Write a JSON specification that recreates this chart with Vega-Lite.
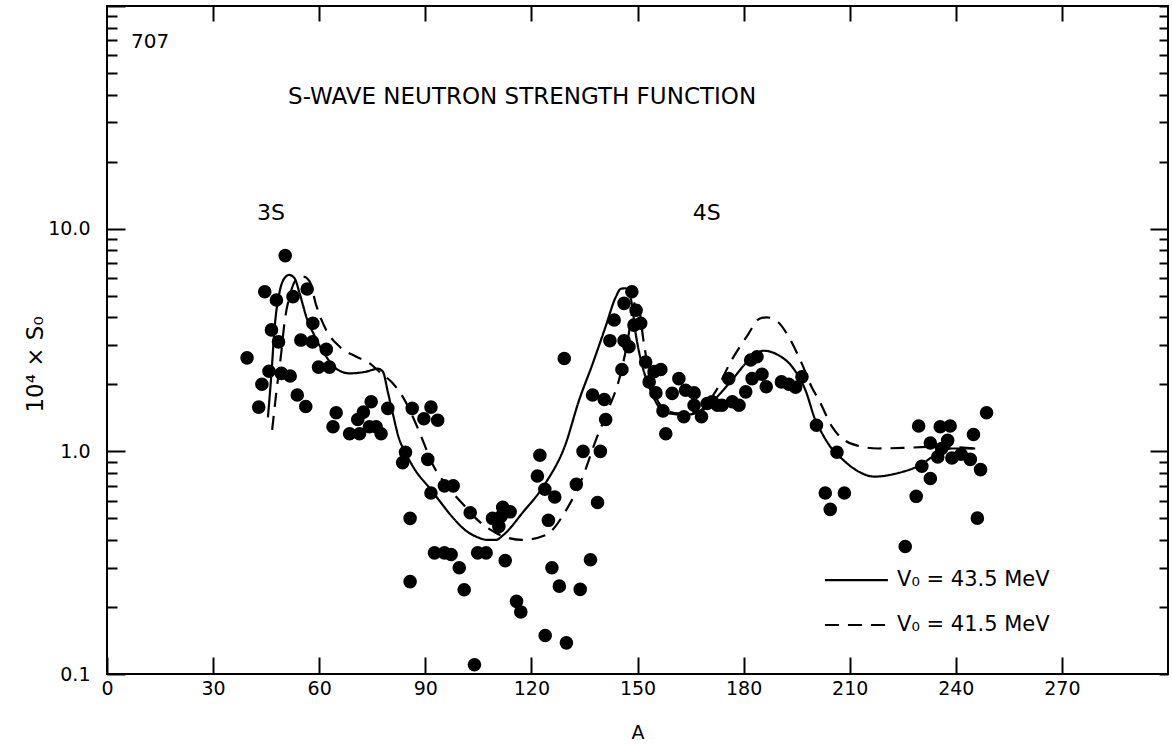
{
  "$schema": "https://vega.github.io/schema/vega-lite/v6.json",
  "width": 1061,
  "height": 668,
  "autosize": {"type": "none"},
  "padding": {"left": 107, "top": 6, "right": 4, "bottom": 70},
  "background": "white",
  "config": {
    "font": "DejaVu Sans",
    "view": {"stroke": "black", "strokeWidth": 2},
    "axis": {"grid": false, "domain": false, "tickColor": "black", "tickWidth": 2, "labelColor": "black", "titleColor": "black", "labelFont": "DejaVu Sans", "titleFont": "DejaVu Sans", "titleFontWeight": "normal"}
  },
  "datasets": {
    "obs": [
      {"A": 39.6, "S": 2.63}, {"A": 42.9, "S": 1.58}, {"A": 43.8, "S": 2.0}, {"A": 44.6, "S": 5.21},
      {"A": 45.8, "S": 2.29}, {"A": 46.5, "S": 3.51}, {"A": 47.9, "S": 4.78}, {"A": 48.5, "S": 3.1},
      {"A": 49.3, "S": 2.24}, {"A": 50.4, "S": 7.57}, {"A": 51.8, "S": 2.18}, {"A": 52.6, "S": 4.95},
      {"A": 53.8, "S": 1.79}, {"A": 54.8, "S": 3.16}, {"A": 56.2, "S": 1.59}, {"A": 56.6, "S": 5.36},
      {"A": 58.1, "S": 3.1}, {"A": 58.2, "S": 3.76}, {"A": 59.8, "S": 2.39}, {"A": 62.0, "S": 2.87},
      {"A": 62.9, "S": 2.39}, {"A": 64.8, "S": 1.49}, {"A": 63.9, "S": 1.29},
      {"A": 68.6, "S": 1.2}, {"A": 70.9, "S": 1.39}, {"A": 71.4, "S": 1.2}, {"A": 72.5, "S": 1.5},
      {"A": 74.2, "S": 1.29}, {"A": 74.7, "S": 1.67}, {"A": 76.1, "S": 1.29}, {"A": 77.5, "S": 1.2},
      {"A": 79.4, "S": 1.56},
      {"A": 83.6, "S": 0.89}, {"A": 84.4, "S": 0.99}, {"A": 85.7, "S": 0.5}, {"A": 85.7, "S": 0.26},
      {"A": 86.3, "S": 1.56}, {"A": 89.6, "S": 1.4}, {"A": 90.7, "S": 0.92}, {"A": 91.6, "S": 1.58},
      {"A": 91.6, "S": 0.65}, {"A": 92.6, "S": 0.35}, {"A": 93.5, "S": 1.38}, {"A": 95.4, "S": 0.7},
      {"A": 95.4, "S": 0.35}, {"A": 97.3, "S": 0.344}, {"A": 97.9, "S": 0.7}, {"A": 99.6, "S": 0.3},
      {"A": 101.0, "S": 0.239}, {"A": 102.7, "S": 0.53}, {"A": 103.9, "S": 0.11}, {"A": 104.8, "S": 0.35},
      {"A": 107.2, "S": 0.35},
      {"A": 109.0, "S": 0.5}, {"A": 110.8, "S": 0.46}, {"A": 111.4, "S": 0.51}, {"A": 111.9, "S": 0.56},
      {"A": 114.0, "S": 0.535}, {"A": 112.6, "S": 0.323}, {"A": 115.8, "S": 0.212}, {"A": 117.0, "S": 0.19},
      {"A": 121.7, "S": 0.775}, {"A": 122.4, "S": 0.96}, {"A": 123.8, "S": 0.676}, {"A": 123.9, "S": 0.149},
      {"A": 124.8, "S": 0.49}, {"A": 125.8, "S": 0.3}, {"A": 126.6, "S": 0.624}, {"A": 127.9, "S": 0.248},
      {"A": 129.3, "S": 2.61}, {"A": 129.9, "S": 0.138}, {"A": 132.7, "S": 0.711}, {"A": 133.8, "S": 0.24},
      {"A": 134.6, "S": 1.0}, {"A": 136.7, "S": 0.326}, {"A": 137.3, "S": 1.79}, {"A": 138.7, "S": 0.589},
      {"A": 139.5, "S": 1.0}, {"A": 140.6, "S": 1.71}, {"A": 141.0, "S": 1.39},
      {"A": 142.2, "S": 3.14}, {"A": 143.4, "S": 3.89}, {"A": 145.6, "S": 2.33}, {"A": 146.2, "S": 4.62},
      {"A": 146.2, "S": 3.14}, {"A": 147.6, "S": 2.95}, {"A": 148.4, "S": 5.21}, {"A": 149.0, "S": 3.69},
      {"A": 149.6, "S": 4.3}, {"A": 150.9, "S": 3.76},
      {"A": 152.3, "S": 2.52}, {"A": 153.3, "S": 2.05}, {"A": 154.7, "S": 2.28}, {"A": 155.2, "S": 1.83},
      {"A": 156.6, "S": 2.33}, {"A": 157.2, "S": 1.52}, {"A": 158.0, "S": 1.2}, {"A": 159.8, "S": 1.82},
      {"A": 161.7, "S": 2.12}, {"A": 163.1, "S": 1.43}, {"A": 163.6, "S": 1.88}, {"A": 166.0, "S": 1.83},
      {"A": 166.0, "S": 1.61}, {"A": 168.1, "S": 1.43}, {"A": 169.7, "S": 1.64}, {"A": 171.1, "S": 1.67},
      {"A": 172.6, "S": 1.61}, {"A": 173.9, "S": 1.61}, {"A": 175.8, "S": 2.12}, {"A": 176.8, "S": 1.67},
      {"A": 178.7, "S": 1.61}, {"A": 180.6, "S": 1.85}, {"A": 182.0, "S": 2.57}, {"A": 182.4, "S": 2.12},
      {"A": 183.8, "S": 2.66}, {"A": 185.2, "S": 2.22}, {"A": 186.4, "S": 1.95}, {"A": 190.7, "S": 2.05},
      {"A": 192.8, "S": 2.0}, {"A": 194.7, "S": 1.94}, {"A": 196.5, "S": 2.16},
      {"A": 200.6, "S": 1.31}, {"A": 203.1, "S": 0.65}, {"A": 204.5, "S": 0.549}, {"A": 206.4, "S": 0.99},
      {"A": 208.5, "S": 0.65},
      {"A": 225.7, "S": 0.374}, {"A": 228.8, "S": 0.628}, {"A": 229.5, "S": 1.3}, {"A": 230.4, "S": 0.857},
      {"A": 232.8, "S": 1.09}, {"A": 232.8, "S": 0.755}, {"A": 234.9, "S": 0.944}, {"A": 235.6, "S": 1.29},
      {"A": 236.0, "S": 1.03}, {"A": 237.7, "S": 1.12}, {"A": 238.4, "S": 1.3}, {"A": 238.9, "S": 0.934},
      {"A": 241.5, "S": 0.97}, {"A": 244.1, "S": 0.92}, {"A": 245.0, "S": 1.19}, {"A": 246.1, "S": 0.501},
      {"A": 247.0, "S": 0.828}, {"A": 248.7, "S": 1.49}
    ],
    "calc": [
      {"curve": "43.5", "A": 45.5, "S": 1.42}, {"curve": "43.5", "A": 46.5, "S": 2.24}, {"curve": "43.5", "A": 47.4, "S": 3.6},
      {"curve": "43.5", "A": 48.8, "S": 5.2}, {"curve": "43.5", "A": 50.2, "S": 6.0}, {"curve": "43.5", "A": 51.5, "S": 6.2},
      {"curve": "43.5", "A": 53.0, "S": 6.0}, {"curve": "43.5", "A": 54.5, "S": 5.1}, {"curve": "43.5", "A": 56.4, "S": 4.0},
      {"curve": "43.5", "A": 58.7, "S": 3.3}, {"curve": "43.5", "A": 62.0, "S": 2.66}, {"curve": "43.5", "A": 64.8, "S": 2.35},
      {"curve": "43.5", "A": 68.6, "S": 2.24}, {"curve": "43.5", "A": 73.3, "S": 2.28}, {"curve": "43.5", "A": 76.6, "S": 2.35},
      {"curve": "43.5", "A": 78.0, "S": 2.28}, {"curve": "43.5", "A": 79.4, "S": 1.85}, {"curve": "43.5", "A": 80.8, "S": 1.48},
      {"curve": "43.5", "A": 82.5, "S": 1.15}, {"curve": "43.5", "A": 84.5, "S": 0.98}, {"curve": "43.5", "A": 87.0, "S": 0.83},
      {"curve": "43.5", "A": 91.0, "S": 0.69}, {"curve": "43.5", "A": 94.0, "S": 0.6}, {"curve": "43.5", "A": 97.5, "S": 0.51},
      {"curve": "43.5", "A": 101.5, "S": 0.44}, {"curve": "43.5", "A": 105.0, "S": 0.41}, {"curve": "43.5", "A": 107.6, "S": 0.4},
      {"curve": "43.5", "A": 110.0, "S": 0.4}, {"curve": "43.5", "A": 112.0, "S": 0.42}, {"curve": "43.5", "A": 117.5, "S": 0.53},
      {"curve": "43.5", "A": 124.0, "S": 0.72}, {"curve": "43.5", "A": 129.5, "S": 1.06}, {"curve": "43.5", "A": 133.5, "S": 1.7},
      {"curve": "43.5", "A": 137.3, "S": 2.47}, {"curve": "43.5", "A": 141.0, "S": 3.64}, {"curve": "43.5", "A": 143.9, "S": 4.95},
      {"curve": "43.5", "A": 145.3, "S": 5.37}, {"curve": "43.5", "A": 146.7, "S": 5.4}, {"curve": "43.5", "A": 148.2, "S": 4.78},
      {"curve": "43.5", "A": 149.5, "S": 3.37}, {"curve": "43.5", "A": 151.4, "S": 2.41}, {"curve": "43.5", "A": 153.7, "S": 1.88},
      {"curve": "43.5", "A": 156.1, "S": 1.58}, {"curve": "43.5", "A": 158.9, "S": 1.48}, {"curve": "43.5", "A": 163.6, "S": 1.46},
      {"curve": "43.5", "A": 167.4, "S": 1.5}, {"curve": "43.5", "A": 172.1, "S": 1.73}, {"curve": "43.5", "A": 176.8, "S": 2.1},
      {"curve": "43.5", "A": 181.5, "S": 2.57}, {"curve": "43.5", "A": 185.7, "S": 2.83}, {"curve": "43.5", "A": 189.9, "S": 2.7},
      {"curve": "43.5", "A": 193.7, "S": 2.4}, {"curve": "43.5", "A": 197.5, "S": 1.88}, {"curve": "43.5", "A": 200.3, "S": 1.38},
      {"curve": "43.5", "A": 202.0, "S": 1.22}, {"curve": "43.5", "A": 204.5, "S": 1.05}, {"curve": "43.5", "A": 208.0, "S": 0.92},
      {"curve": "43.5", "A": 212.0, "S": 0.82}, {"curve": "43.5", "A": 217.0, "S": 0.77}, {"curve": "43.5", "A": 223.8, "S": 0.8},
      {"curve": "43.5", "A": 229.5, "S": 0.86}, {"curve": "43.5", "A": 235.0, "S": 0.98}, {"curve": "43.5", "A": 238.9, "S": 1.03},
      {"curve": "43.5", "A": 245.5, "S": 1.03},
      {"curve": "41.5", "A": 46.7, "S": 1.25}, {"curve": "41.5", "A": 47.9, "S": 1.85}, {"curve": "41.5", "A": 49.3, "S": 2.8},
      {"curve": "41.5", "A": 50.2, "S": 3.8}, {"curve": "41.5", "A": 51.6, "S": 4.95}, {"curve": "41.5", "A": 53.5, "S": 5.9},
      {"curve": "41.5", "A": 55.4, "S": 6.1}, {"curve": "41.5", "A": 57.3, "S": 5.8}, {"curve": "41.5", "A": 59.2, "S": 4.5},
      {"curve": "41.5", "A": 62.0, "S": 3.5}, {"curve": "41.5", "A": 65.8, "S": 2.95}, {"curve": "41.5", "A": 70.5, "S": 2.66},
      {"curve": "41.5", "A": 74.2, "S": 2.49}, {"curve": "41.5", "A": 77.0, "S": 2.28}, {"curve": "41.5", "A": 80.8, "S": 2.02},
      {"curve": "41.5", "A": 83.6, "S": 1.76}, {"curve": "41.5", "A": 86.9, "S": 1.38}, {"curve": "41.5", "A": 89.0, "S": 1.15},
      {"curve": "41.5", "A": 92.0, "S": 0.88}, {"curve": "41.5", "A": 96.8, "S": 0.68}, {"curve": "41.5", "A": 101.5, "S": 0.56},
      {"curve": "41.5", "A": 104.3, "S": 0.5}, {"curve": "41.5", "A": 110.0, "S": 0.43}, {"curve": "41.5", "A": 117.5, "S": 0.4},
      {"curve": "41.5", "A": 124.0, "S": 0.42}, {"curve": "41.5", "A": 129.7, "S": 0.54}, {"curve": "41.5", "A": 134.4, "S": 0.76},
      {"curve": "41.5", "A": 138.2, "S": 1.12}, {"curve": "41.5", "A": 142.0, "S": 1.58}, {"curve": "41.5", "A": 144.8, "S": 2.1},
      {"curve": "41.5", "A": 147.3, "S": 3.2}, {"curve": "41.5", "A": 148.6, "S": 4.3}, {"curve": "41.5", "A": 149.8, "S": 4.8},
      {"curve": "41.5", "A": 150.6, "S": 4.3}, {"curve": "41.5", "A": 151.5, "S": 3.3}, {"curve": "41.5", "A": 152.3, "S": 2.74},
      {"curve": "41.5", "A": 153.5, "S": 2.1}, {"curve": "41.5", "A": 155.2, "S": 1.75}, {"curve": "41.5", "A": 157.5, "S": 1.55},
      {"curve": "41.5", "A": 161.7, "S": 1.48}, {"curve": "41.5", "A": 167.4, "S": 1.52}, {"curve": "41.5", "A": 172.0, "S": 1.85},
      {"curve": "41.5", "A": 176.5, "S": 2.55}, {"curve": "41.5", "A": 181.0, "S": 3.3}, {"curve": "41.5", "A": 184.5, "S": 3.94},
      {"curve": "41.5", "A": 186.5, "S": 4.0}, {"curve": "41.5", "A": 189.8, "S": 3.8}, {"curve": "41.5", "A": 192.6, "S": 3.3},
      {"curve": "41.5", "A": 196.5, "S": 2.47}, {"curve": "41.5", "A": 199.2, "S": 1.95}, {"curve": "41.5", "A": 201.3, "S": 1.7},
      {"curve": "41.5", "A": 205.0, "S": 1.29}, {"curve": "41.5", "A": 210.6, "S": 1.08}, {"curve": "41.5", "A": 218.0, "S": 1.03},
      {"curve": "41.5", "A": 227.5, "S": 1.04}, {"curve": "41.5", "A": 235.0, "S": 1.05}, {"curve": "41.5", "A": 245.5, "S": 1.03}
    ],
    "key": [
      {"curve": "43.5", "A": 203.0, "S": 0.264}, {"curve": "43.5", "A": 220.8, "S": 0.264},
      {"curve": "41.5", "A": 203.0, "S": 0.166}, {"curve": "41.5", "A": 220.8, "S": 0.166}
    ],
    "keyText": [
      {"A": 223.4, "S": 0.264, "label": "V₀ = 43.5 MeV"},
      {"A": 223.4, "S": 0.166, "label": "V₀ = 41.5 MeV"}
    ]
  },
  "resolve": {"axis": {"x": "independent", "y": "independent"}},
  "layer": [
    {
      "data": {"name": "obs"},
      "mark": {"type": "circle", "size": 185, "color": "black", "opacity": 1},
      "encoding": {
        "x": {
          "field": "A", "type": "quantitative",
          "scale": {"domain": [0, 300], "nice": false, "zero": false},
          "axis": {
            "orient": "bottom", "values": [0, 30, 60, 90, 120, 150, 180, 210, 240, 270], "format": "d",
            "tickSize": -17, "labelPadding": 22, "labelFontSize": 19, "labelFlush": false, "labelOverlap": false,
            "title": "A", "titleFontSize": 19, "titleY": 58, "titleBaseline": "middle"
          }
        },
        "y": {
          "field": "S", "type": "quantitative",
          "scale": {"type": "log", "domain": [0.1, 100], "nice": false},
          "axis": {
            "orient": "left",
            "values": [0.1, 0.2, 0.3, 0.4, 0.5, 0.6, 0.7, 0.8, 0.9, 1, 2, 3, 4, 5, 6, 7, 8, 9, 10, 20, 30, 40, 50, 60, 70, 80, 90, 100],
            "labelExpr": "datum.value == 0.1 ? '0.1' : datum.value == 1 ? '1.0' : datum.value == 10 ? '10.0' : ''",
            "tickSize": {"condition": {"test": "datum.value == 1 || datum.value == 10 || datum.value == 100 || datum.value == 0.1", "value": -18}, "value": -10},
            "labelPadding": 35, "labelFontSize": 19, "labelOverlap": false, "labelFlush": false,
            "title": "10⁴ × S₀", "titleFontSize": 23, "titleX": -72, "titleY": 358, "titleAlign": "center", "titleBaseline": "middle"
          }
        }
      }
    },
    {
      "data": {"name": "calc"},
      "mark": {"type": "line", "color": "black", "strokeWidth": 2.2, "interpolate": "monotone"},
      "encoding": {
        "x": {
          "field": "A", "type": "quantitative",
          "scale": {"domain": [0, 300], "nice": false, "zero": false},
          "axis": {"orient": "top", "values": [30, 60, 90, 120, 150, 180, 210, 240, 270], "labels": false, "tickSize": -15, "title": null}
        },
        "y": {
          "field": "S", "type": "quantitative",
          "scale": {"type": "log", "domain": [0.1, 100], "nice": false},
          "axis": {
            "orient": "right",
            "values": [0.1, 0.2, 0.3, 0.4, 0.5, 0.6, 0.7, 0.8, 0.9, 1, 2, 3, 4, 5, 6, 7, 8, 9, 10, 20, 30, 40, 50, 60, 70, 80, 90, 100],
            "labels": false,
            "tickSize": {"condition": {"test": "datum.value == 1 || datum.value == 10", "value": -18}, "value": -9},
            "title": null
          }
        },
        "strokeDash": {
          "field": "curve", "type": "nominal",
          "scale": {"domain": ["43.5", "41.5"], "range": [[1, 0], [14, 9]]},
          "legend": null
        }
      }
    },
    {
      "data": {"name": "key"},
      "mark": {"type": "line", "color": "black", "strokeWidth": 2.2},
      "encoding": {
        "x": {"field": "A", "type": "quantitative", "scale": {"domain": [0, 300], "nice": false, "zero": false}, "axis": null},
        "y": {"field": "S", "type": "quantitative", "scale": {"type": "log", "domain": [0.1, 100], "nice": false}, "axis": null},
        "strokeDash": {
          "field": "curve", "type": "nominal",
          "scale": {"domain": ["43.5", "41.5"], "range": [[1, 0], [14, 9]]},
          "legend": null
        }
      }
    },
    {
      "data": {"name": "keyText"},
      "mark": {"type": "text", "align": "left", "baseline": "middle", "fontSize": 21, "color": "black"},
      "encoding": {
        "x": {"field": "A", "type": "quantitative", "scale": {"domain": [0, 300], "nice": false, "zero": false}, "axis": null},
        "y": {"field": "S", "type": "quantitative", "scale": {"type": "log", "domain": [0.1, 100], "nice": false}, "axis": null},
        "text": {"field": "label"}
      }
    },
    {
      "data": {"values": [{"A": 6.8, "S": 68.9, "label": "707"}]},
      "mark": {"type": "text", "align": "left", "baseline": "middle", "fontSize": 20, "color": "black"},
      "encoding": {
        "x": {"field": "A", "type": "quantitative", "scale": {"domain": [0, 300], "nice": false, "zero": false}, "axis": null},
        "y": {"field": "S", "type": "quantitative", "scale": {"type": "log", "domain": [0.1, 100], "nice": false}, "axis": null},
        "text": {"field": "label"}
      }
    },
    {
      "data": {"values": [{"A": 51.2, "S": 39.0, "label": "S-WAVE NEUTRON STRENGTH FUNCTION"}]},
      "mark": {"type": "text", "align": "left", "baseline": "middle", "fontSize": 23, "color": "black"},
      "encoding": {
        "x": {"field": "A", "type": "quantitative", "scale": {"domain": [0, 300], "nice": false, "zero": false}, "axis": null},
        "y": {"field": "S", "type": "quantitative", "scale": {"type": "log", "domain": [0.1, 100], "nice": false}, "axis": null},
        "text": {"field": "label"}
      }
    },
    {
      "data": {"values": [{"A": 46.4, "S": 11.76, "label": "3S"}, {"A": 169.6, "S": 11.76, "label": "4S"}]},
      "mark": {"type": "text", "align": "center", "baseline": "middle", "fontSize": 22, "color": "black"},
      "encoding": {
        "x": {"field": "A", "type": "quantitative", "scale": {"domain": [0, 300], "nice": false, "zero": false}, "axis": null},
        "y": {"field": "S", "type": "quantitative", "scale": {"type": "log", "domain": [0.1, 100], "nice": false}, "axis": null},
        "text": {"field": "label"}
      }
    }
  ]
}
